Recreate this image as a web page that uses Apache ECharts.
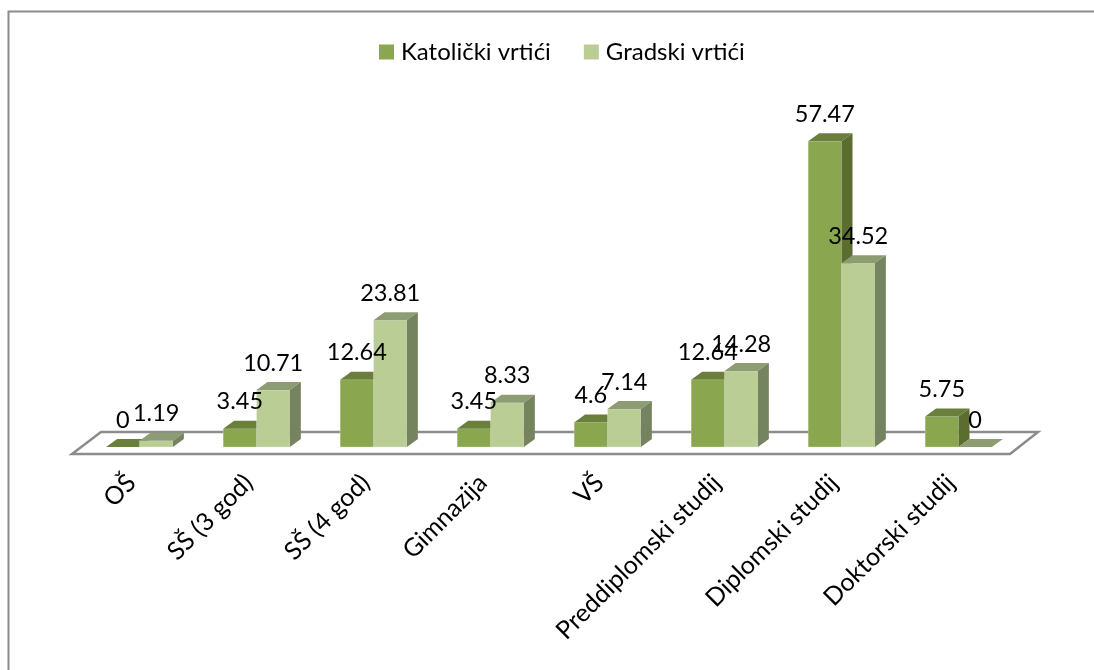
<!DOCTYPE html>
<html><head><meta charset="utf-8">
<style>html,body{margin:0;padding:0;background:#fff}#c{width:1094px;height:670px}</style>
<script src="https://cdn.jsdelivr.net/npm/echarts@6/dist/echarts.min.js"></script></head>
<body><div id="c"></div>
<script>
const categories = ['OŠ','SŠ (3 god)','SŠ (4 god)','Gimnazija','VŠ','Preddiplomski studij','Diplomski studij','Doktorski studij'];
const katolicki = [0,3.45,12.64,3.45,4.6,12.64,57.47,5.75];
const gradski = [1.19,10.71,23.81,8.33,7.14,14.28,34.52,0];
const FONT = 'Lato, "Open Sans", sans-serif';
const chart = echarts.init(document.getElementById('c'), null, {renderer:'canvas'});
const DX = 11, DY = 8;
function bars(name, vals, offsetSign, front, top, side){
  return {
    type:'custom', name, coordinateSystem:'cartesian2d',
    itemStyle:{color:front},
    encode:{x:0,y:1},
    data: vals.map((v,i)=>[i,v]),
    z:3,
    renderItem(params, api){
      const i = api.value(0), v = api.value(1);
      const band = api.size([1,0])[0];
      const w = band*0.285;
      const p = api.coord([i,v]), b = api.coord([i,0]);
      const x0 = offsetSign<0 ? p[0]-w : p[0], x1 = x0+w, yt = p[1], yb = b[1];
      const kids = [];
      if (v>0) kids.push({type:'rect',shape:{x:x0,y:yt,width:w,height:yb-yt},style:{fill:front,stroke:'rgba(255,255,255,0.25)',lineWidth:1}});
      kids.push({type:'polygon',shape:{points:[[x0,yt],[x1,yt],[x1+DX,yt-DY],[x0+DX,yt-DY]]},style:{fill:top}});
      if (v>0) kids.push({type:'polygon',shape:{points:[[x1,yt],[x1+DX,yt-DY],[x1+DX,yb-DY],[x1,yb]]},style:{fill:side}});
      kids.push({type:'text',z2:100,style:{text:String(v),x:(x0+x1)/2,y:yt-27,align:'center',verticalAlign:'middle',font:'23.5px '+FONT,fill:'#000'}});
      return {type:'group',children:kids};
    }
  };
}
chart.setOption({
  animation:false,
  backgroundColor:'#fff',
  graphic:[{type:'rect',z:-10,shape:{x:8.5,y:11.5,width:1200,height:800},style:{fill:'none',stroke:'#8c8c8c',lineWidth:2}}],
  legend:{
    data:['Katolički vrtići','Gradski vrtići'],icon:'rect',itemWidth:15,itemHeight:15,itemGap:33,top:35,left:374,
    textStyle:{fontFamily:'Lato',fontSize:24,color:'#000',padding:[0,0,0,2]}
  },
  grid:{left:81,width:936,top:48,height:399},
  xAxis:{type:'category',data:categories,
    axisLine:{show:false},axisTick:{show:false},
    axisLabel:{rotate:45,interval:0,margin:24,fontFamily:'Lato',fontSize:25,color:'#000',align:'right',padding:[0,11,0,0]}},
  yAxis:{type:'value',min:0,max:75,show:false},
  series:[
    {type:'custom',coordinateSystem:'cartesian2d',silent:true,z:1,data:[[0,0]],encode:{x:0,y:1},
     renderItem(params,api){
       const c = params.coordSys, y0 = c.y+c.height;
       return {type:'polygon',shape:{points:[[c.x-9,y0+7],[c.x+c.width-7,y0+7],[c.x+c.width+21,y0-15],[c.x+20,y0-15]]},
         style:{fill:'#fff',stroke:'#8c8c8c',lineWidth:2.5}};
     }},
    bars('Katolički vrtići',katolicki,-1,'#8aa64e','#6a7f3c','#5b6e30'),
    bars('Gradski vrtići',gradski,1,'#bacd95','#8d9c72','#75835e')
  ]
});
</script></body></html>
